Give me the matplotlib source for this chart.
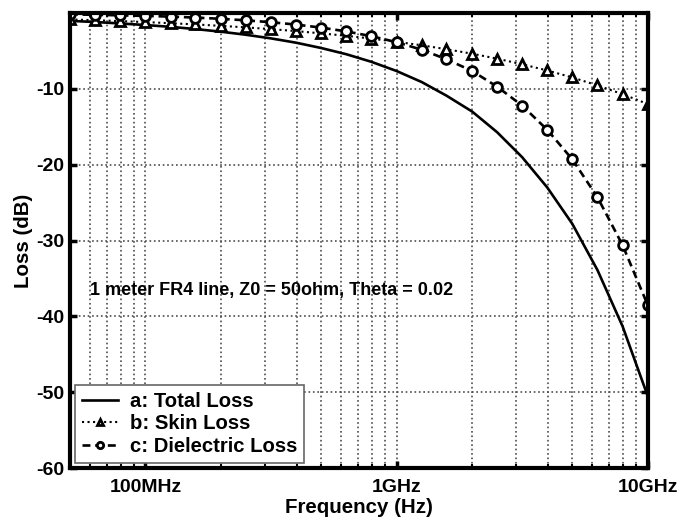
import matplotlib
matplotlib.use('Agg')
import matplotlib.pyplot as plt
import numpy as np
from matplotlib.ticker import FixedLocator, LogLocator, NullFormatter

# sample frequencies (Hz), one every 0.1 decade from 50MHz to 10GHz
freq = [5.0e7, 6.3e7, 7.9e7, 1.0e8, 1.26e8, 1.58e8, 2.0e8, 2.51e8,
        3.16e8, 3.98e8, 5.01e8, 6.31e8, 7.94e8, 1.0e9, 1.26e9, 1.58e9,
        2.0e9, 2.51e9, 3.16e9, 3.98e9, 5.01e9, 6.31e9, 7.94e9, 1.0e10]

total_loss = [-1.04, -1.19, -1.38, -1.59, -1.83, -2.12, -2.47, -2.87,
              -3.35, -3.92, -4.62, -5.44, -6.44, -7.65, -9.11, -10.9,
              -13.0, -15.7, -19.0, -23.0, -27.8, -33.9, -41.3, -50.5]

skin_loss = [-0.85, -0.95, -1.07, -1.20, -1.35, -1.51, -1.70, -1.90,
             -2.13, -2.39, -2.69, -3.01, -3.38, -3.80, -4.26, -4.78,
             -5.37, -6.02, -6.76, -7.58, -8.50, -9.55, -10.7, -12.0]

diel_loss = [-0.19, -0.24, -0.31, -0.39, -0.48, -0.61, -0.77, -0.97,
             -1.22, -1.53, -1.93, -2.43, -3.06, -3.85, -4.85, -6.10,
             -7.65, -9.7, -12.2, -15.4, -19.3, -24.3, -30.6, -38.5]

xtick_vals = [1e8, 1e9, 1e10]
xtick_labels = ['100MHz', '1GHz', '10GHz']
ytick_vals = [-60, -50, -40, -30, -20, -10]

plt.rcParams['font.family'] = ['Liberation Sans', 'DejaVu Sans']
plt.rcParams['font.weight'] = 'bold'
plt.rcParams['axes.unicode_minus'] = False

fig = plt.figure(figsize=(6.92, 5.19), dpi=100)
ax = fig.add_axes([0.101, 0.098, 0.835, 0.877])

ax.plot(freq, total_loss, color='black', linestyle='-', linewidth=1.9,
        label='a: Total Loss')
ax.plot(freq, skin_loss, color='black', linestyle=':', linewidth=1.5,
        marker='^', markersize=7.5, markerfacecolor='white',
        markeredgewidth=2, label='b: Skin Loss')
ax.plot(freq, diel_loss, color='black', linestyle='--', linewidth=1.9,
        dashes=(3, 1.8), marker='o', markersize=7, markerfacecolor='white',
        markeredgewidth=2, label='c: Dielectric Loss')

ax.set_xscale('log')
ax.set_xlim(5e7, 1e10)
ax.set_ylim(-60, 0)

ax.xaxis.set_major_locator(FixedLocator(xtick_vals))
ax.set_xticklabels(xtick_labels)
ax.xaxis.set_minor_locator(LogLocator(base=10, subs=np.arange(2, 10)))
ax.xaxis.set_minor_formatter(NullFormatter())
ax.set_yticks(ytick_vals)

ax.grid(True, which='major', axis='both', color='0.3', linestyle=':', linewidth=1.2)
ax.grid(True, which='minor', axis='x', color='0.3', linestyle=':', linewidth=1.2)

ax.tick_params(which='major', direction='in', length=5, width=2.5,
               top=True, right=True, labelsize=14)
ax.tick_params(axis='x', which='major', pad=8)
ax.tick_params(axis='y', which='major', pad=4)
ax.tick_params(which='minor', direction='in', length=3, width=1.5,
               top=True, right=True)
for sp in ax.spines.values():
    sp.set_linewidth(3)

ax.set_xlabel('Frequency (Hz)', fontsize=14.8, fontweight='bold', labelpad=1)
ax.set_ylabel('Loss (dB)', fontsize=14.8, fontweight='bold', labelpad=2)

ax.text(0.034, 0.39, '1 meter FR4 line, Z0 = 50ohm, Theta = 0.02',
        transform=ax.transAxes, fontsize=13, fontweight='bold', va='center')

leg = ax.legend(loc='lower left', bbox_to_anchor=(0.009, 0.011), borderaxespad=0,
                numpoints=1, fontsize=14.6, handlelength=1.75, markerscale=0.65,
                fancybox=False, framealpha=1, edgecolor='0.4',
                labelspacing=0.18, borderpad=0.35, handletextpad=0.6)
leg.get_frame().set_linewidth(1.2)

fig.savefig('out.png', dpi=100)
